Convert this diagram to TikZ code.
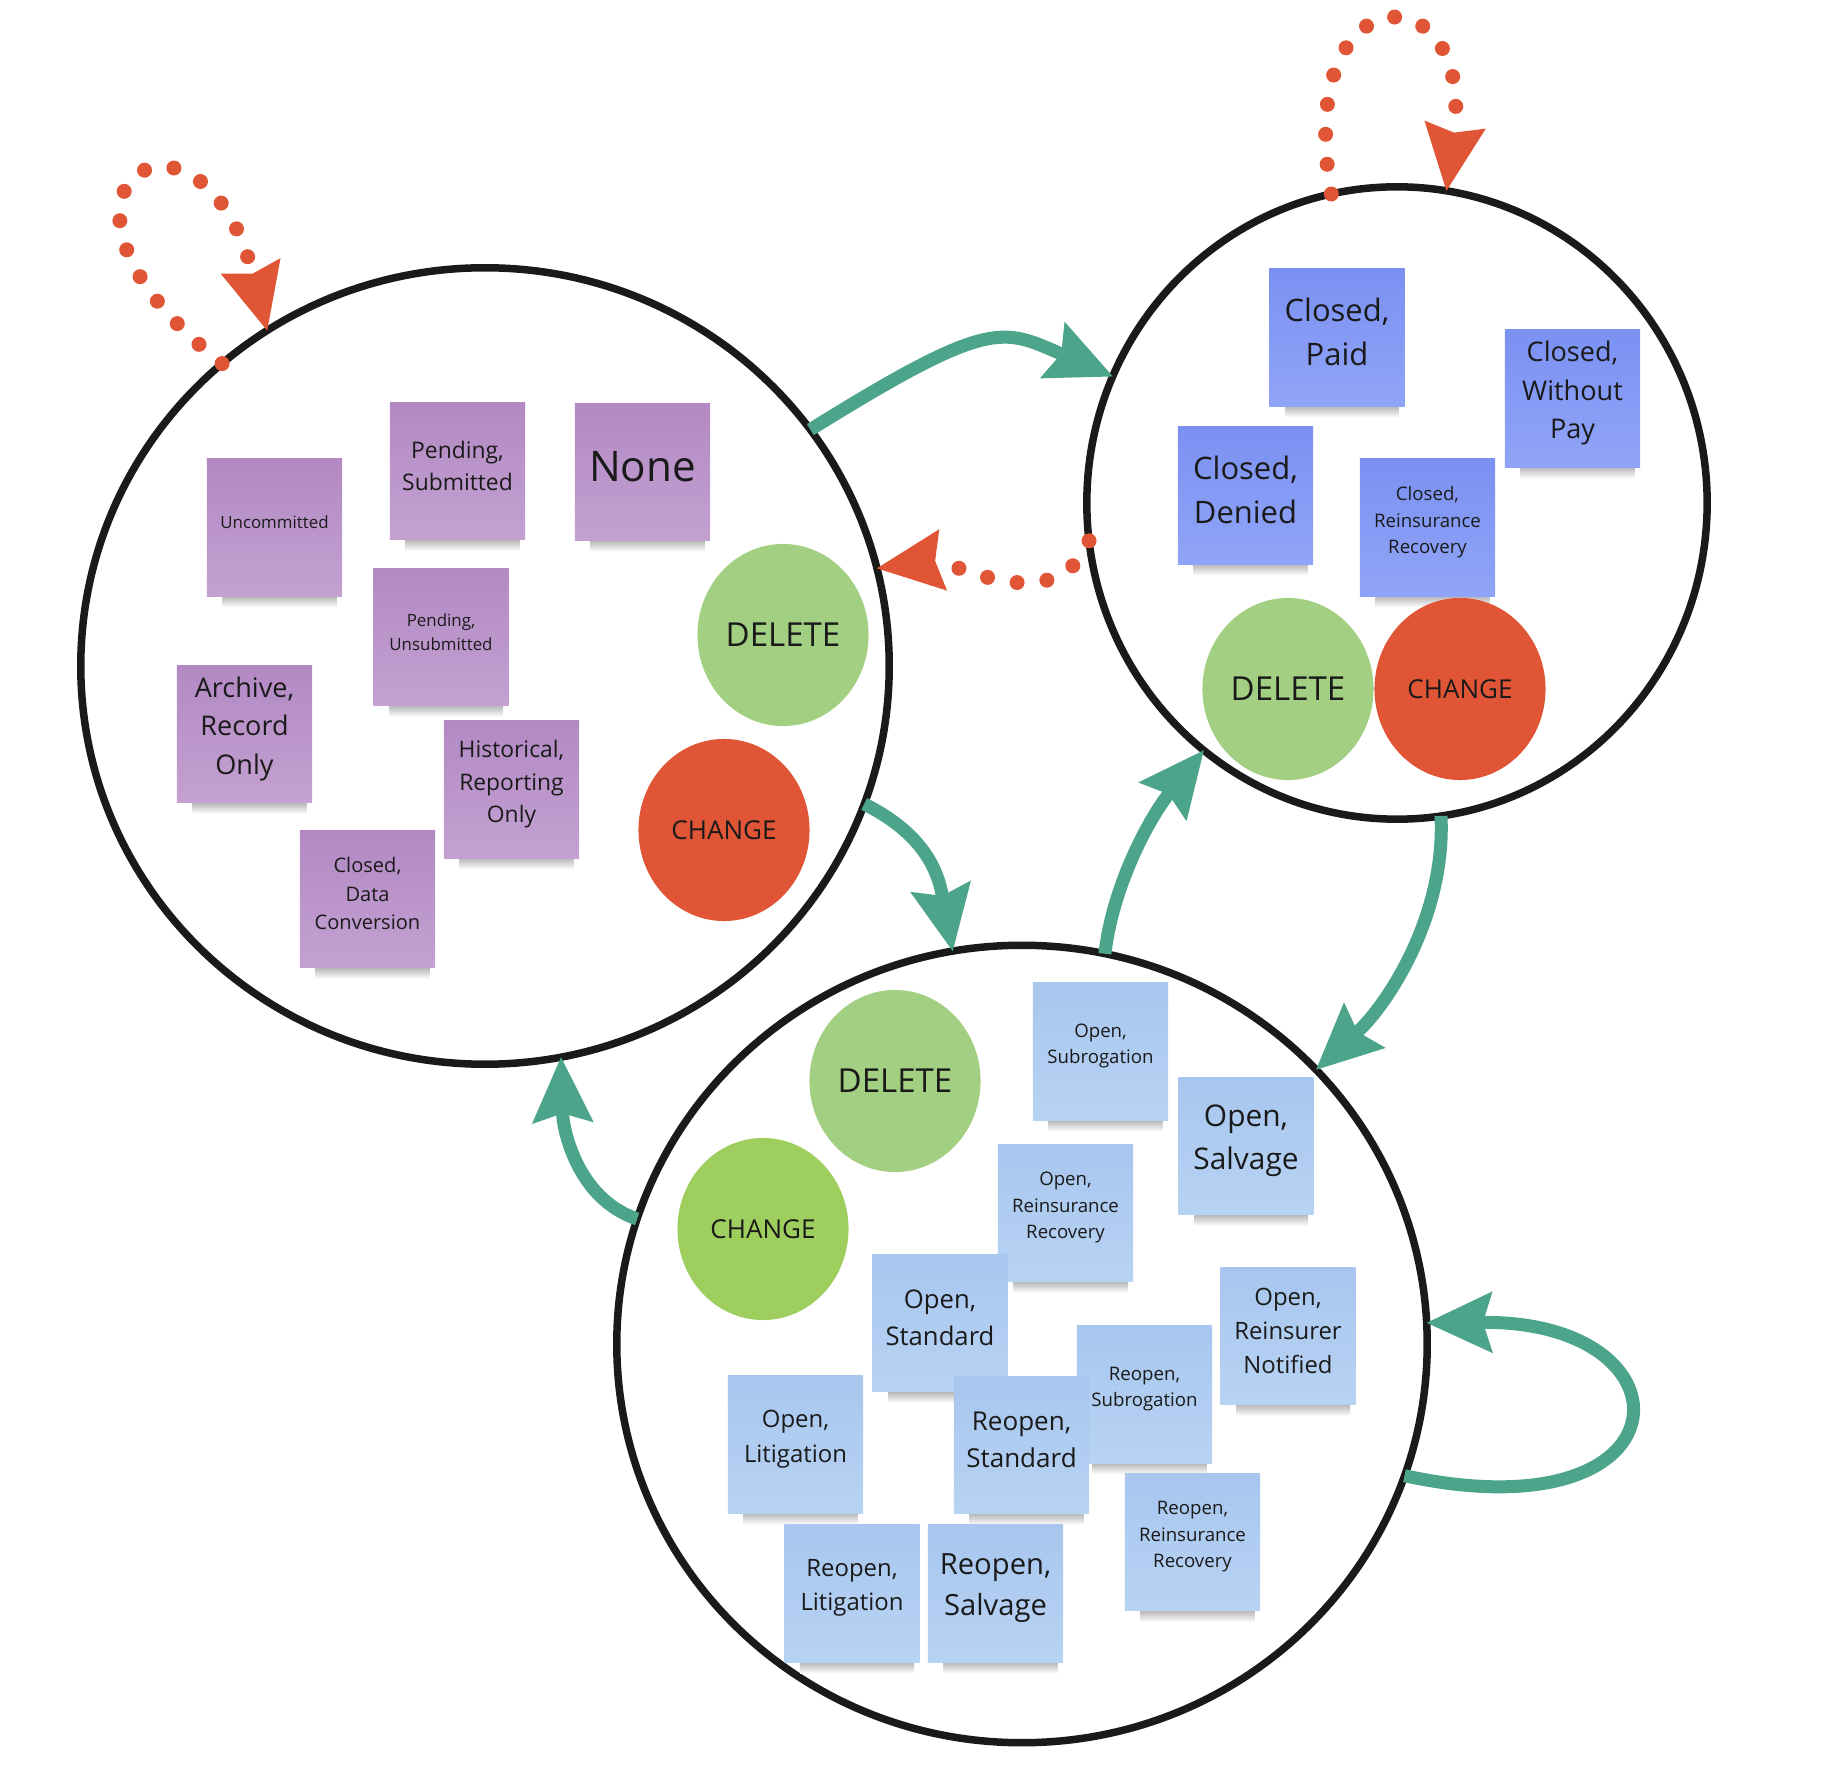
\documentclass[tikz,border=0pt]{standalone}
\usepackage{fontspec}
\setmainfont{Open Sans}
\usetikzlibrary{arrows.meta,shapes.geometric}
\definecolor{teal1}{HTML}{4CA58B}
\definecolor{orng}{HTML}{E05535}
\definecolor{redc}{HTML}{E05535}
\definecolor{grnA}{HTML}{A3CF82}
\definecolor{grnB}{HTML}{9ECF5E}
\definecolor{purT}{HTML}{B389C4}
\definecolor{purB}{HTML}{C3A1D1}
\definecolor{bluT}{HTML}{7B91F2}
\definecolor{bluB}{HTML}{90A4F7}
\definecolor{lbT}{HTML}{A8C6EE}
\definecolor{lbB}{HTML}{B7D3F4}
\definecolor{ink}{HTML}{1A1A1A}
\tikzset{
  bigcirc/.style={ellipse, draw=ink, line width=0.075cm, inner sep=0pt, outer sep=0pt},
  action/.style={ellipse, minimum width=1.71cm, minimum height=1.82cm, inner sep=0pt, text=ink},
  note/.style={rectangle, minimum width=1.35cm, minimum height=1.37cm, inner sep=0pt},
  purple note/.style={note, top color=purT, bottom color=purB},
  closed note/.style={note, top color=bluT, bottom color=bluB},
  open note/.style={note, top color=lbT, bottom color=lbB},
  notetext/.style={align=center, text=ink, inner sep=0pt},
  flow/.style={draw=teal1, line width=0.13cm,
    -{Stealth[length=18.8pt, width=17.6pt, inset=2.8pt, line width=0pt]}},
  dotflow/.style={draw=orng, line width=0.15cm, line cap=round, dash pattern=on 0pt off 0.3cm,
    -{Stealth[length=19pt, width=17.6pt, inset=2.3pt, line width=0pt]}},
}
% #1 name, #2 x, #3 y, #4 style, #5 size, #6 baselineskip, #7 text
\newcommand\sticky[7]{%
  \shade[top color=black!35, bottom color=white] (#2-52,#3+66) rectangle (#2+62,#3+80);
  \node[#4] (#1) at (#2,#3) {};
  \node[notetext, font=\fontsize{#5}{#6}\selectfont] (#1t) at ([yshift=1.5pt]#1.center) {#7};
}
\begin{document}
\begin{tikzpicture}[x=0.01cm, y=-0.01cm]
\useasboundingbox (0,0) rectangle (1826,1776);

% big circles
\node[bigcirc, minimum width=8.08cm, minimum height=7.96cm] (L) at (485,666) {};
\node[bigcirc, minimum width=6.2cm, minimum height=6.32cm] (T) at (1397,503) {};
\node[bigcirc, minimum width=8.1cm, minimum height=7.97cm] (B) at (1022,1344) {};

% left circle notes
\sticky{n1}{274.5}{527.5}{purple note}{4.8}{6.8}{Uncommitted}
\sticky{n2}{457.5}{471}{purple note}{6.5}{9.2}{Pending,\\Submitted}
\sticky{n3}{642.5}{472}{purple note}{12}{17}{None}
\sticky{n4}{441}{637}{purple note}{4.8}{6.8}{Pending,\\Unsubmitted}
\sticky{n5}{244.5}{734}{purple note}{7.7}{10.9}{Archive,\\Record\\Only}
\sticky{n6}{511.5}{789.5}{purple note}{6.5}{9.2}{Historical,\\Reporting\\Only}
\sticky{n7}{367.5}{899}{purple note}{5.7}{8.1}{Closed,\\Data\\Conversion}
\node[action, fill=grnA, font=\fontsize{9.4}{11}\selectfont] (dL) at (783,635) {DELETE};
\node[action, fill=redc, font=\fontsize{7.4}{9}\selectfont] (cL) at (724,830) {CHANGE};

% top-right circle notes
\sticky{t1}{1337}{337.5}{closed note}{8.8}{12.5}{Closed,\\Paid}
\sticky{t2}{1572.5}{398.5}{closed note}{7.7}{10.9}{Closed,\\Without\\Pay}
\sticky{t3}{1245.5}{495.5}{closed note}{8.8}{12.5}{Closed,\\Denied}
\sticky{t4}{1427.5}{527.5}{closed note}{5.3}{7.5}{Closed,\\Reinsurance\\Recovery}
\node[action, fill=grnA, font=\fontsize{9.4}{11}\selectfont] (dT) at (1288,689) {DELETE};
\node[action, fill=redc, font=\fontsize{7.4}{9}\selectfont] (cT) at (1460,689) {CHANGE};

% bottom circle notes
\sticky{b1}{1100.5}{1051.5}{open note}{5.3}{7.5}{Open,\\Subrogation}
\sticky{b2}{1246}{1146}{open note}{8.5}{12.1}{Open,\\Salvage}
\sticky{b3}{1065.5}{1213}{open note}{5.3}{7.5}{Open,\\Reinsurance\\Recovery}
\sticky{b4}{940}{1323}{open note}{7.3}{10.4}{Open,\\Standard}
\sticky{b5}{1288}{1336}{open note}{6.8}{9.7}{Open,\\Reinsurer\\Notified}
\sticky{b6}{1144.5}{1394.5}{open note}{5.3}{7.5}{Reopen,\\Subrogation}
\sticky{b7}{795.5}{1444.5}{open note}{6.8}{9.7}{Open,\\Litigation}
\sticky{b8}{1021.5}{1445}{open note}{7.4}{10.5}{Reopen,\\Standard}
\sticky{b9}{1192.5}{1542}{open note}{5.3}{7.5}{Reopen,\\Reinsurance\\Recovery}
\sticky{b10}{852}{1593.5}{open note}{6.8}{9.7}{Reopen,\\Litigation}
\sticky{b11}{995.5}{1593.5}{open note}{8.3}{11.8}{Reopen,\\Salvage}
\node[action, fill=grnA, font=\fontsize{9.4}{11}\selectfont] (dB) at (895,1081) {DELETE};
\node[action, fill=grnB, font=\fontsize{7.4}{9}\selectfont] (cB) at (763,1229) {CHANGE};

% teal transitions
\draw[flow] (L.36) .. controls +(180,-112) and +(-110,-48) .. (T.156);
\draw[flow] (L.-20) .. controls +(60,30) and +(-15,-80) .. (B.100);
\draw[flow] (B.78) .. controls +(8,-70) and +(-53,66) .. (T.-128);
\draw[flow] (T.-82) .. controls +(5,100) and +(71,-65) .. (B.43);
\draw[flow] (B.162) .. controls +(-60,-20) and +(2,72) .. (L.-79.5);
\draw[flow] (B.-19) .. controls +(287,62) and +(272,-2) .. (B.3);

% orange dotted transitions
\draw[dotflow] (L.131) .. controls +(-222,-174) and +(-67,-261) .. (L.123);
\draw[dotflow] (T.102) .. controls +(-40,-225) and +(29,-221) .. (T.81);
\draw[dotflow] (T.-173) .. controls +(-33,82) and +(71,-9) .. (L.14);
\end{tikzpicture}
\end{document}
